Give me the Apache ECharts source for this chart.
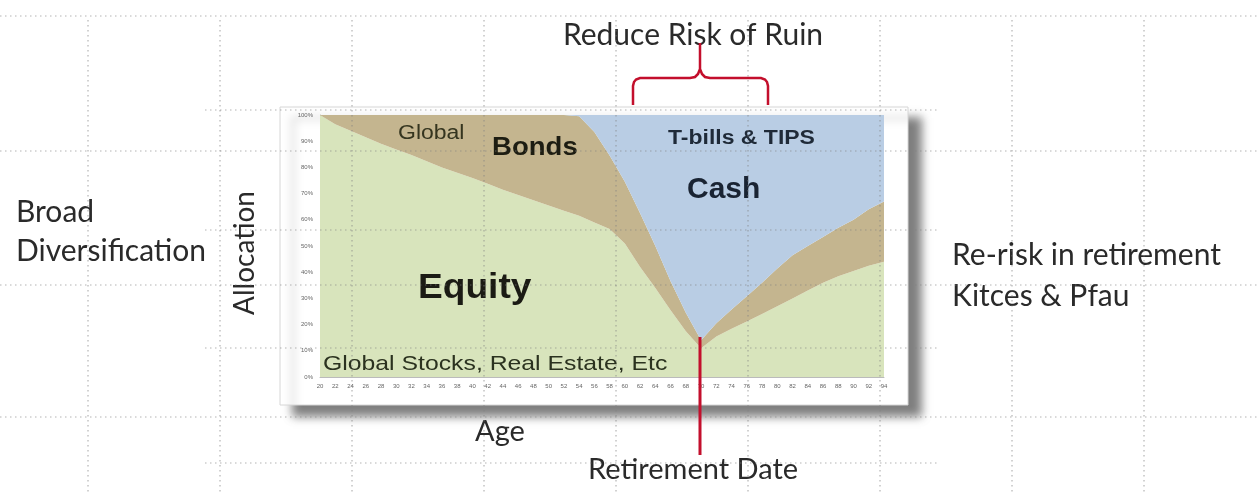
<!DOCTYPE html>
<html><head><meta charset="utf-8">
<script src="https://cdn.jsdelivr.net/npm/echarts@6/dist/echarts.min.js"></script>
<style>html,body{margin:0;padding:0;background:#fff}#c{width:1257px;height:493px}</style>
</head><body><div id="c"></div>
<script>
// ---- data (percent of portfolio by age) ----
const ages = [20,22,24,26,28,30,32,34,36,38,40,42,44,46,48,50,52,54,56,58,60,62,64,66,68,70,72,74,76,78,80,82,84,86,88,90,92,94];
const equity = [100,96.5,94,91.5,89,86.8,84.7,82.3,80,78,76,73.8,71.5,69.5,67.5,65.5,63.5,61.5,59,56.5,51,42,34,25.5,17.5,11,15.5,18.4,21.2,24,27,30,33,36,38.5,40.5,42.5,44];
const bonds  = [0,3.5,6,8.5,11,13.2,15.3,17.7,20,22,24,26.2,28.5,30.5,32.5,34.5,36.5,38,34.5,28,23.5,20.5,16,11,7,3,5,7.4,9.6,12,14.4,16.5,17,17.4,18.5,19.5,21.5,23];
const cash   = [0,0,0,0,0,0,0,0,0,0,0,0,0,0,0,0,0,0.5,6.5,15.5,25.5,37.5,50,63.5,75.5,86,79.5,74.2,69.2,64,58.6,53.5,50,46.6,43,40,36,33];
const yTicks = [0,10,20,30,40,50,60,70,80,90,100];
const seriesNames = ['Equity','Bonds','Cash'];

const chart = echarts.init(document.getElementById('c'));
const slideFont = 'Lato';
const chartFont = 'Liberation Sans';

function txt(text, x, y, size, opts) {
  opts = opts || {};
  return {
    type: 'text', x: x, y: y, z: 50,
    rotation: opts.rotation || 0,
    scaleX: opts.scaleX || 1,
    style: {
      text: text,
      fontSize: size,
      fontFamily: opts.family || slideFont,
      fontWeight: opts.weight || 'normal',
      fill: opts.fill || '#2a2a2a',
      align: opts.align || 'left', textAlign: opts.align || 'left',
      verticalAlign: 'middle', textVerticalAlign: 'middle'
    }
  };
}
function dotted(x1, y1, x2, y2) {
  return {
    type: 'line', z: 60, silent: true,
    shape: {x1: x1, y1: y1, x2: x2, y2: y2},
    style: {stroke: 'rgba(130,130,130,0.6)', lineWidth: 1.2, lineDash: [1.5, 3.5]}
  };
}

const guides = [];
[16, 151, 285, 417].forEach(y => guides.push(dotted(0, y, 1257, y)));
[110, 230, 348, 463].forEach(y => guides.push(dotted(205, y, 937, y)));
[88, 220, 352, 484, 616, 748, 880, 1012, 1144].forEach(x => guides.push(dotted(x, 20, x, 493)));

const redC = '#c30f2c';
const bracketPts = [[633,105],[633,86],[634,82],[636,79.5],[640,78],[690,78],[695,77],[698,74],[700,69],[700,43],
  [700,69],[702,74],[705,77],[710,78],[761,78],[765,79.5],[767,82],[768,86],[768,105]];

const option = {
  animation: false,
  backgroundColor: '#ffffff',
  grid: {left: 320, right: 373, top: 115, bottom: 116},
  xAxis: {
    type: 'category', data: ages, boundaryGap: false,
    axisLine: {show: true, lineStyle: {color: '#bbbbbb'}},
    axisTick: {show: false},
    axisLabel: {interval: 0, fontSize: 6, color: '#666', margin: 6, fontFamily: chartFont},
    splitLine: {show: false}
  },
  yAxis: {
    type: 'value', min: 0, max: 100, interval: 10,
    axisLine: {show: true, lineStyle: {color: '#bbbbbb'}},
    axisTick: {show: false},
    axisLabel: {fontSize: 6, color: '#666', margin: 7, fontFamily: chartFont,
      formatter: v => yTicks.indexOf(v) >= 0 ? v + '%' : ''},
    splitLine: {show: false}
  },
  series: [
    {name: seriesNames[0], type: 'line', stack: 'a', data: equity, symbol: 'none',
     lineStyle: {width: 0}, areaStyle: {color: '#d8e4bc', opacity: 1}, z: 3},
    {name: seriesNames[1], type: 'line', stack: 'a', data: bonds, symbol: 'none',
     lineStyle: {width: 0}, areaStyle: {color: '#c4b58f', opacity: 1}, z: 3},
    {name: seriesNames[2], type: 'line', stack: 'a', data: cash, symbol: 'none',
     lineStyle: {width: 0}, areaStyle: {color: '#b9cde4', opacity: 1}, z: 3}
  ],
  graphic: {elements: [
    {type: 'rect', z: -5, shape: {x: 280, y: 107, width: 628, height: 298},
     style: {fill: '#ffffff', stroke: '#d6d6d6', lineWidth: 1,
       shadowBlur: 9, shadowOffsetX: 13, shadowOffsetY: 11, shadowColor: 'rgba(0,0,0,0.5)'}},
    ...guides,
    {type: 'polyline', z: 70, shape: {points: bracketPts},
     style: {fill: null, stroke: redC, lineWidth: 2.5}},
    {type: 'line', z: 70, shape: {x1: 700, y1: 337, x2: 700, y2: 455},
     style: {stroke: redC, lineWidth: 3}},
    txt('Reduce Risk of Ruin', 693, 35, 30, {align: 'center'}),
    txt('Broad', 16, 212, 30),
    txt('Diversification', 16, 251, 30),
    txt('Allocation', 245, 253, 28, {align: 'center', rotation: Math.PI / 2}),
    txt('Age', 500, 432, 29, {align: 'center'}),
    txt('Retirement Date', 693, 470, 29, {align: 'center'}),
    txt('Re-risk in retirement', 952, 255, 30),
    txt('Kitces & Pfau', 952, 296, 30),
    txt('Global', 398, 133, 20, {family: chartFont, fill: '#35351f', scaleX: 1.15}),
    txt('Bonds', 492, 148, 26, {family: chartFont, weight: 'bold', fill: '#1d1d12', scaleX: 1.06}),
    txt('T-bills & TIPS', 668, 138, 20, {family: chartFont, weight: 'bold', fill: '#1f2a38', scaleX: 1.15}),
    txt('Cash', 687, 190, 30, {family: chartFont, weight: 'bold', fill: '#1a2433'}),
    txt('Equity', 418, 288, 35, {family: chartFont, weight: 'bold', fill: '#1b1b14', scaleX: 1.06}),
    txt('Global Stocks, Real Estate, Etc', 323, 364, 21, {family: chartFont, fill: '#2b321f', scaleX: 1.18})
  ]}
};
chart.setOption(option);
</script>
</body></html>
